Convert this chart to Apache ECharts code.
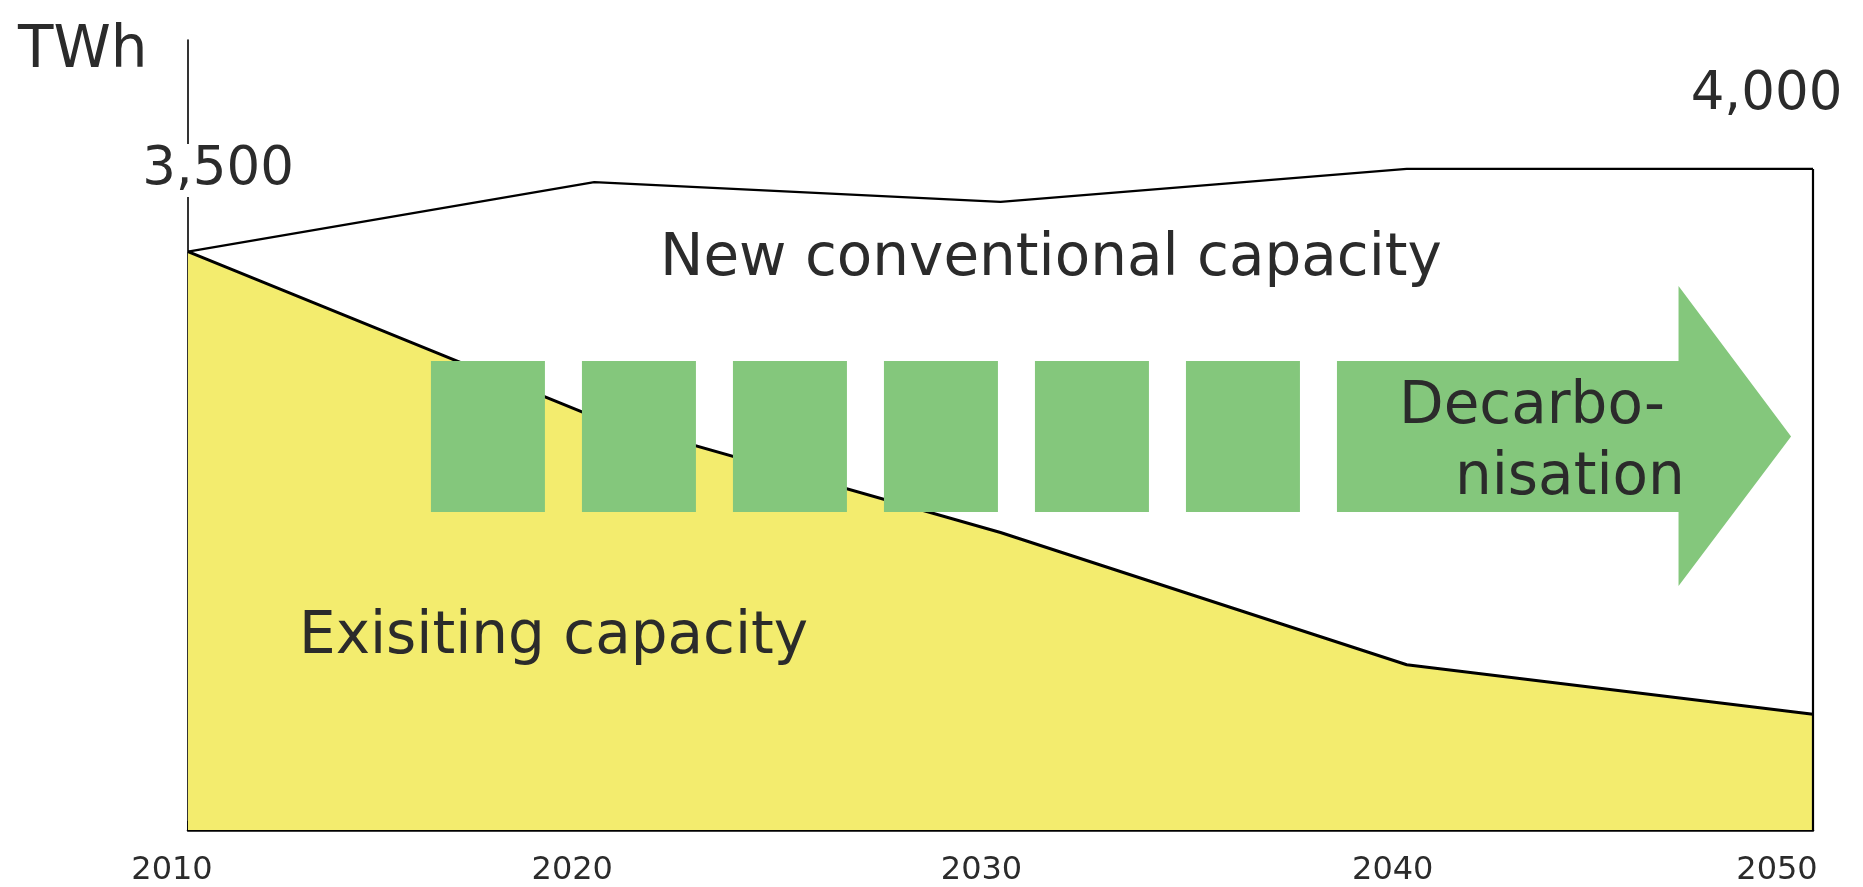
<!DOCTYPE html>
<html>
<head>
<meta charset="utf-8">
<script src="https://cdn.jsdelivr.net/npm/echarts@6/dist/echarts.min.js"></script>
<style>
  html, body { margin: 0; padding: 0; background: #ffffff; }
  #chart { width: 1863px; height: 887px; }
</style>
</head>
<body>
<div id="chart"></div>
<script>
// ---- data ----
const years = [2010, 2020, 2030, 2040, 2050];
const xTickLabels = ['2010', '2020', '2030', '2040', '2050'];
const existingCapacity = [3500, 2500, 1800, 1000, 700];   // TWh, yellow area
const totalCapacity = [3500, 3920, 3800, 4000, 4000];     // TWh, top outline
const labelledPoints = [0, 4];                             // indices whose value is printed
const unitLabel = 'TWh';
const areaLabels = ['New conventional capacity', 'Exisiting capacity'];
const arrowLabel = ['Decarbo-', 'nisation'];

// ---- styling ----
const FONT = 'DejaVu Sans';
const TEXT = '#2b2b2b';
const YELLOW = '#F3EC6E';
const GREEN = '#84C77C';

const chart = echarts.init(document.getElementById('chart'), null, { renderer: 'canvas' });

// per-label horizontal nudges (labels are drawn slightly left of their ticks)
const labelPad = { '2010': 32, '2020': 44, '2030': 38, '2040': 28, '2050': 72 };
const rich = {};
xTickLabels.forEach(t => {
  rich['l' + t] = { fontFamily: FONT, fontSize: 32, color: TEXT, lineHeight: 32, padding: [0, labelPad[t], 0, 0] };
});

// decorative "decarbonisation" arrow, defined in data units (year, TWh)
const deco = {
  boxStart: 2015.98, boxWidth: 2.806, boxStep: 3.717, boxCount: 6,
  top: 2838, bottom: 1924,
  headX: 2046.69, headTop: 3292, headBottom: 1476, tipX: 2049.46, mid: 2381
};

const totalData = years.map((y, i) => {
  const item = { value: [y, totalCapacity[i]] };
  if (labelledPoints.includes(i)) {
    item.label = {
      show: true,
      position: 'inside',
      formatter: p => p.value[1].toLocaleString('en-US'),
      fontFamily: FONT, fontSize: 53, color: TEXT,
      backgroundColor: '#ffffff',
      offset: i === 0 ? [30, -81] : [-46.5, -74]
    };
  }
  return item;
});

const option = {
  backgroundColor: '#ffffff',
  animation: false,
  grid: { left: 188, right: 50, top: 40, bottom: 57, containLabel: false, outerBoundsMode: 'none' },
  xAxis: {
    type: 'value', min: 2010, max: 2050, interval: 10,
    axisLine: { show: true, lineStyle: { color: '#000', width: 2.5 } },
    axisTick: { show: true, inside: true, length: 9, lineStyle: { color: '#000', width: 1.5 } },
    splitLine: { show: false },
    axisLabel: {
      margin: 25,
      showMinLabel: true, showMaxLabel: true,
      hideOverlap: false,
      formatter: v => { const t = String(v); return '{l' + t + '|' + t + '}'; },
      rich: rich
    }
  },
  yAxis: {
    type: 'value', min: 0, max: 4780,
    axisLine: { show: true, lineStyle: { color: '#000', width: 1.6 } },
    axisTick: { show: false },
    axisLabel: { show: false },
    splitLine: { show: false }
  },
  series: [
    {
      name: 'Existing capacity',
      type: 'line',
      data: years.map((y, i) => [y, existingCapacity[i]]),
      symbol: 'none',
      lineStyle: { color: '#000', width: 3 },
      areaStyle: { color: YELLOW, opacity: 1 },
      emphasis: { disabled: true },
      z: 2
    },
    {
      name: 'Total',
      type: 'line',
      data: totalData,
      symbol: 'circle', symbolSize: 0, showSymbol: true,
      itemStyle: { color: '#000' },
      lineStyle: { color: '#000', width: 2.2 },
      emphasis: { disabled: true },
      z: 3,
      markLine: {
        silent: true,
        symbol: ['none', 'none'],
        label: { show: false },
        lineStyle: { color: '#000', width: 2.2, type: 'solid' },
        data: [[{ coord: [years[4], 0] }, { coord: [years[4], totalCapacity[4]] }]]
      }
    },
    {
      name: 'Decarbonisation',
      type: 'custom',
      silent: true,
      z: 5,
      data: [[2030, 2400]],
      renderItem: (params, api) => {
        const c = (x, y) => api.coord([x, y]);
        const children = [];
        for (let i = 0; i < deco.boxCount; i++) {
          const x0 = deco.boxStart + i * deco.boxStep;
          const p1 = c(x0, deco.top), p2 = c(x0 + deco.boxWidth, deco.bottom);
          children.push({
            type: 'rect',
            shape: { x: p1[0], y: p1[1], width: p2[0] - p1[0], height: p2[1] - p1[1] },
            style: { fill: GREEN }
          });
        }
        const bodyStart = deco.boxStart + deco.boxCount * deco.boxStep;
        children.push({
          type: 'polygon',
          shape: {
            points: [
              c(bodyStart, deco.top), c(deco.headX, deco.top), c(deco.headX, deco.headTop),
              c(deco.tipX, deco.mid), c(deco.headX, deco.headBottom), c(deco.headX, deco.bottom),
              c(bodyStart, deco.bottom)
            ]
          },
          style: { fill: GREEN }
        });
        return { type: 'group', children: children };
      }
    }
  ],
  graphic: [
    { type: 'text', x: 18, y: 52, z: 100,
      style: { text: unitLabel, font: '58px "' + FONT + '"', fill: TEXT, verticalAlign: 'middle', align: 'left' } },
    { type: 'text', x: 660, y: 260, z: 100,
      style: { text: areaLabels[0], font: '58px "' + FONT + '"', fill: TEXT, verticalAlign: 'middle', align: 'left' } },
    { type: 'text', x: 299, y: 638, z: 100,
      style: { text: areaLabels[1], font: '58px "' + FONT + '"', fill: TEXT, verticalAlign: 'middle', align: 'left' } },
    { type: 'text', x: 1399, y: 408, z: 100,
      style: { text: arrowLabel[0], font: '58px "' + FONT + '"', fill: TEXT, verticalAlign: 'middle', align: 'left' } },
    { type: 'text', x: 1455, y: 479, z: 100,
      style: { text: arrowLabel[1], font: '58px "' + FONT + '"', fill: TEXT, verticalAlign: 'middle', align: 'left' } }
  ]
};

chart.setOption(option);
</script>
</body>
</html>
